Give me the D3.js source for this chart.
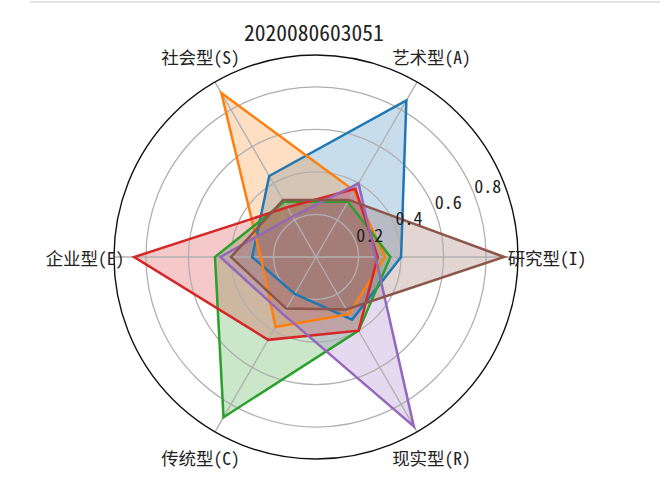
<!DOCTYPE html>
<html>
<head>
<meta charset="utf-8">
<script src="https://cdn.jsdelivr.net/npm/d3@7/dist/d3.min.js"></script>
<style>
  html, body { margin: 0; padding: 0; background: #fff; }
  svg { display: block; }
  text { font-family: "Noto Sans Mono CJK SC", "Noto Sans CJK SC", "Noto Sans", sans-serif; fill: #222; }
</style>
</head>
<body>
<svg id="chart" width="660" height="499"></svg>
<script>
// ---- data ----
const title = "2020080603051";
const categories = ["研究型(I)", "艺术型(A)", "社会型(S)", "企业型(E)", "传统型(C)", "现实型(R)"];
const radialTicks = [0.2, 0.4, 0.6, 0.8];
const radialTickLabels = ["0.2", "0.4", "0.6", "0.8"];
const rMax = 0.95;

const seriesBlue   = [0.40, 0.85, 0.44, 0.30, 0.20, 0.34];
const seriesOrange = [0.325, 0.36, 0.89, 0.26, 0.38, 0.31];
const seriesGreen  = [0.35, 0.30, 0.30, 0.475, 0.87, 0.40];
const seriesRed    = [0.29, 0.37, 0.27, 0.855, 0.45, 0.40];
const seriesPurple = [0.28, 0.40, 0.22, 0.45, 0.31, 0.92];
const seriesBrown  = [0.885, 0.31, 0.31, 0.40, 0.28, 0.285];
const seriesList = [seriesBlue, seriesOrange, seriesGreen, seriesRed, seriesPurple, seriesBrown];
const colors = ["#1f77b4", "#ff7f0e", "#2ca02c", "#d62728", "#9467bd", "#8c564b"];

// ---- layout ----
const cx = 316, cy = 257, R = 202;
const svg = d3.select("#chart");

svg.append("rect").attr("x", 30).attr("y", 1).attr("width", 630).attr("height", 2).attr("fill", "#e2e2e2");

const r = d3.scaleLinear().domain([0, rMax]).range([0, R]);
// theta (counter-clockwise from east) for each category
const theta = d3.scalePoint().domain(categories).range([0, 2 * Math.PI * (categories.length - 1) / categories.length]);
const toD3Angle = t => Math.PI / 2 - t;

const g = svg.append("g").attr("transform", `translate(${cx},${cy})`);

const line = d3.lineRadial()
  .angle((d, i) => toD3Angle(theta(categories[i])))
  .radius(d => r(d))
  .curve(d3.curveLinearClosed);

// fills (below grid)
const fills = g.append("g");
seriesList.forEach((s, k) => {
  fills.append("path").attr("d", line(s)).attr("fill", colors[k]).attr("fill-opacity", 0.25).attr("stroke", "none");
});

// grid
const grid = g.append("g");
radialTicks.forEach(t => {
  grid.append("circle").attr("r", r(t)).attr("fill", "none").attr("stroke", "#b0b0b0").attr("stroke-width", 1.3);
});
categories.forEach(c => {
  const t = theta(c);
  grid.append("line").attr("x1", 0).attr("y1", 0)
    .attr("x2", R * Math.cos(t)).attr("y2", -R * Math.sin(t))
    .attr("stroke", "#b0b0b0").attr("stroke-width", 1.3);
});

// lines
const lines = g.append("g");
seriesList.forEach((s, k) => {
  lines.append("path").attr("d", line(s)).attr("fill", "none").attr("stroke", colors[k])
    .attr("stroke-width", 2.5).attr("stroke-linejoin", "miter");
});

// outer circle
g.append("circle").attr("r", R).attr("fill", "none").attr("stroke", "#111").attr("stroke-width", 1.4);

// radial tick labels at 22.5 deg
const labAng = 22.5 * Math.PI / 180;
radialTicks.forEach((t, i) => {
  g.append("text")
    .attr("x", r(t) * Math.cos(labAng) + 1)
    .attr("y", -r(t) * Math.sin(labAng) + 1)
    .attr("text-anchor", "start")
    .attr("font-size", 18)
    .text(radialTickLabels[i]);
});

// category labels
const labR = 231;
categories.forEach(c => {
  const t = theta(c);
  g.append("text")
    .attr("x", labR * Math.cos(t))
    .attr("y", -labR * Math.sin(t))
    .attr("text-anchor", "middle")
    .attr("dominant-baseline", "central")
    .attr("font-size", 17.5)
    .text(c);
});

// title
svg.append("text").attr("x", 314).attr("y", 41).attr("text-anchor", "middle")
  .attr("font-size", 21.5).text(title);
</script>
</body>
</html>
